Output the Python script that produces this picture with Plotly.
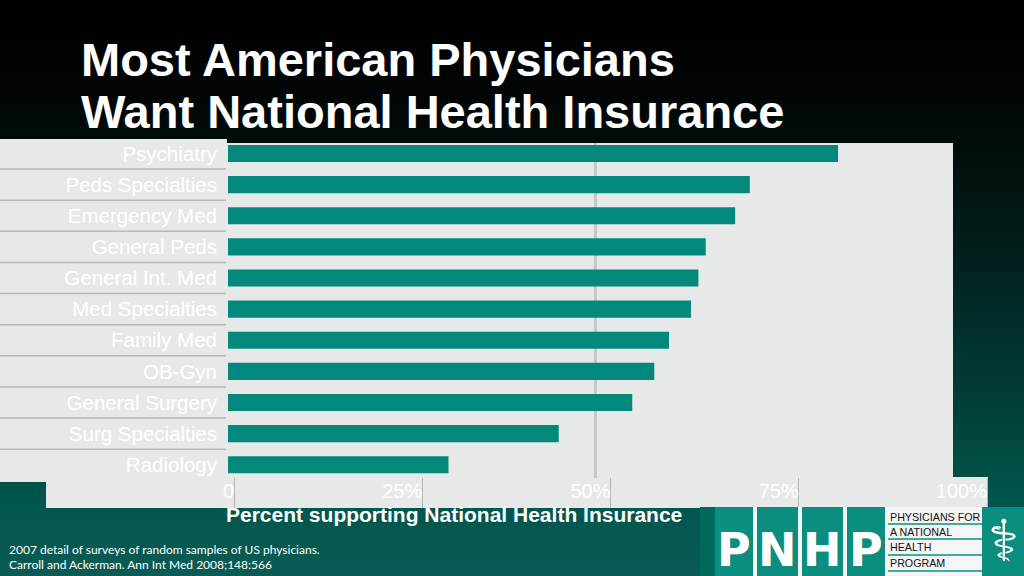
import plotly.graph_objects as go

# ---------------- data ----------------
categories = ["Psychiatry", "Peds Specialties", "Emergency Med", "General Peds",
              "General Int. Med", "Med Specialties", "Family Med", "OB-Gyn",
              "General Surgery", "Surg Specialties", "Radiology"]
support_pct = [83, 71, 69, 65, 64, 63, 60, 58, 55, 45, 30]
tick_values = [0, 25, 50, 75, 100]
tick_labels = ["0", "25%", "50%", "75%", "100%"]

title_lines = ["Most American Physicians", "Want National Health Insurance"]
axis_title = "Percent supporting National Health Insurance"
footnote_lines = ["2007 detail of surveys of random samples of US physicians.",
                  "Carroll and Ackerman. Ann Int Med 2008;148:566"]
logo_letters = ["P", "N", "H", "P"]
logo_words = ["PHYSICIANS FOR", "A NATIONAL", "HEALTH", "PROGRAM"]

# ---------------- helpers ----------------
W, H = 1024, 576
def px(x):
    return x / W
def py(y):
    return 1 - y / H

ARIAL = "Liberation Sans, Arial, Helvetica, sans-serif"
BAR = "#03897c"
PANEL = "#e6e9e8"
TEAL = "#0b8e7f"

def hex2rgb(h):
    h = h.lstrip("#")
    return [int(h[i:i + 2], 16) for i in (0, 2, 4)]

def mix(c1, c2, t):
    a, b = hex2rgb(c1), hex2rgb(c2)
    return "rgb({},{},{})".format(*[round(a[i] + (b[i] - a[i]) * t) for i in range(3)])

shapes = []
# background vertical gradient
grad_stops = [(0, "#000000"), (110, "#010706"), (260, "#02201d"), (420, "#00433c"),
              (500, "#00564c"), (576, "#0a5b55")]
step = 4
for y in range(0, H, step):
    yc = y + step / 2
    for (ya, ca), (yb, cb) in zip(grad_stops[:-1], grad_stops[1:]):
        if ya <= yc <= yb:
            col = mix(ca, cb, (yc - ya) / (yb - ya))
            break
    shapes.append(dict(type="rect", xref="paper", yref="paper", x0=0, x1=1,
                       y0=py(y + step + 0.5), y1=py(y), fillcolor=col,
                       line=dict(width=0), layer="below"))

# light panels
for (x0, x1, y0, y1) in [(0, 227, 139, 482), (226, 953, 143, 482), (46, 988, 477, 508)]:
    shapes.append(dict(type="rect", xref="paper", yref="paper", x0=px(x0), x1=px(x1),
                       y0=py(y1), y1=py(y0), fillcolor=PANEL, line=dict(width=0),
                       layer="below"))

# separators between category labels
for i in range(len(categories) - 1):
    shapes.append(dict(type="line", xref="paper", yref="y", x0=0, x1=px(226),
                       y0=i + 0.5, y1=i + 0.5, line=dict(color="#b5bab8", width=1.5),
                       layer="below"))

# 50% reference line
shapes.append(dict(type="line", xref="x", yref="paper", x0=50, x1=50,
                   y0=py(478), y1=py(143), line=dict(color="#c4c8c7", width=3),
                   layer="below"))

# logo
shapes.append(dict(type="rect", xref="paper", yref="paper", x0=px(700), x1=px(716),
                   y0=0, y1=py(507), fillcolor="#00695e", line=dict(width=0)))
shapes.append(dict(type="rect", xref="paper", yref="paper", x0=px(715), x1=px(982),
                   y0=0, y1=py(507), fillcolor="#f4f6f5", line=dict(width=0)))
shapes.append(dict(type="rect", xref="paper", yref="paper", x0=px(982), x1=1,
                   y0=0, y1=py(507), fillcolor=TEAL, line=dict(width=0)))
logo_blocks = [(715, 753), (757, 798), (802, 843), (847, 885)]
for (x0, x1) in logo_blocks:
    shapes.append(dict(type="rect", xref="paper", yref="paper", x0=px(x0), x1=px(x1),
                       y0=0, y1=py(507), fillcolor=TEAL, line=dict(width=0)))
for yy in [524, 539, 555, 571]:
    shapes.append(dict(type="line", xref="paper", yref="paper", x0=px(888), x1=px(982),
                       y0=py(yy), y1=py(yy), line=dict(color=TEAL, width=1.5)))

annotations = []
for txt, yc in zip(title_lines, [59, 112]):
    annotations.append(dict(text="<b>" + txt + "</b>", xref="paper", yref="paper",
                            x=px(79), y=py(yc), xanchor="left", yanchor="middle",
                            showarrow=False, font=dict(family=ARIAL, size=47, color="#ffffff")))
annotations.append(dict(text="<b>" + axis_title + "</b>", xref="paper", yref="paper",
                        x=px(224), y=py(514), xanchor="left", yanchor="middle",
                        showarrow=False, font=dict(family=ARIAL, size=21, color="#ffffff")))
for txt, yc in zip(footnote_lines, [549, 564]):
    annotations.append(dict(text=txt, xref="paper", yref="paper", x=px(7), y=py(yc),
                            xanchor="left", yanchor="middle", showarrow=False,
                            font=dict(family="Lato, Open Sans, sans-serif", size=12,
                                      color="#ffffff")))
for letter, (x0, x1) in zip(logo_letters, logo_blocks):
    annotations.append(dict(text="<b>" + letter + "</b>", xref="paper", yref="paper",
                            x=px((x0 + x1) / 2), y=py(550), xanchor="center",
                            yanchor="middle", showarrow=False,
                            font=dict(family="DejaVu Sans, sans-serif", size=46,
                                      color="#ffffff")))
for word, yc in zip(logo_words, [517, 532, 547, 563]):
    annotations.append(dict(text=word, xref="paper", yref="paper", x=px(888), y=py(yc),
                            xanchor="left", yanchor="middle", showarrow=False,
                            font=dict(family=ARIAL, size=10.7, color="#111111")))
annotations.append(dict(text="\u2695", xref="paper", yref="paper", x=px(1003), y=py(541),
                        xanchor="center", yanchor="middle", showarrow=False,
                        font=dict(family="DejaVu Sans, sans-serif", size=58, color="#ffffff")))

# ---------------- figure ----------------
fig = go.Figure()
fig.add_trace(go.Bar(x=support_pct, y=categories, orientation="h", width=0.55,
                     marker=dict(color=BAR, line=dict(width=0)),
                     xaxis="x", yaxis="y", hoverinfo="skip"))
fig.add_trace(go.Scatter(x=[None], y=[None], xaxis="x2", yaxis="y2",
                         mode="markers", hoverinfo="skip"))

k = (987 - 234) / 100.0
x2_range = [-(234 - 200) / k, 100 + (990 - 987) / k]

fig.update_layout(
    width=W, height=H, margin=dict(l=0, r=0, t=0, b=0),
    paper_bgcolor="#000000", plot_bgcolor="rgba(0,0,0,0)", showlegend=False,
    xaxis=dict(domain=[px(228), px(963)], range=[0, 100], visible=False,
               anchor="y", fixedrange=True),
    yaxis=dict(domain=[py(480.3), py(138)], type="category", categoryorder="array",
               categoryarray=categories, autorange="reversed", showgrid=False,
               zeroline=False, showline=False, ticks="", ticklabelstandoff=10,
               tickfont=dict(family=ARIAL, size=20.5, color="#ffffff"), anchor="x",
               fixedrange=True),
    xaxis2=dict(domain=[px(200), px(990)], range=x2_range, anchor="y2", side="top",
                tickmode="array", tickvals=tick_values, ticktext=tick_labels,
                ticklabelposition="inside left", showgrid=True, gridcolor="#b3b8b6",
                gridwidth=1, zeroline=False, showline=False, ticks="",
                tickfont=dict(family=ARIAL, size=20, color="#ffffff"), fixedrange=True),
    yaxis2=dict(domain=[py(508), py(478)], range=[0, 1], visible=False, anchor="x2",
                fixedrange=True),
    shapes=shapes, annotations=annotations,
)

fig.write_html("out.html", config={"displayModeBar": False},
               post_script="document.body.style.margin='0';document.body.style.overflow='hidden';")
